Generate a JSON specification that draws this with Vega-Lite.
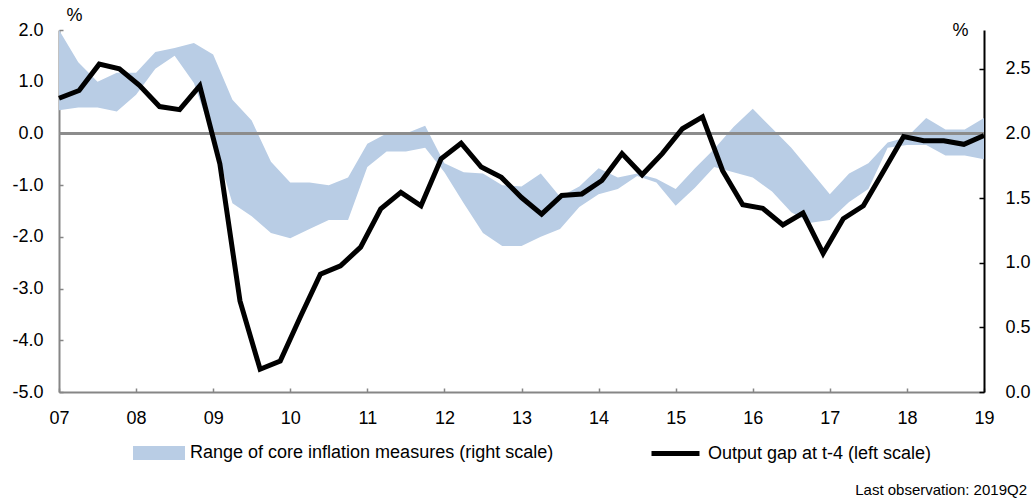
{
  "$schema": "https://vega.github.io/schema/vega-lite/v6.json",
  "width": 925,
  "height": 362,
  "autosize": {"type": "none"},
  "padding": {"left": 59, "top": 30, "right": 50, "bottom": 110},
  "background": "white",
  "config": {
    "view": {"stroke": null},
    "font": "Liberation Sans",
    "axis": {"labelFont": "Liberation Sans", "labelFontSize": 18, "labelColor": "#000", "grid": false, "titleFont": "Liberation Sans", "titleFontWeight": "normal", "titleFontSize": 18, "titleColor": "#000"},
    "legend": {"labelFont": "Liberation Sans", "labelFontSize": 18, "labelColor": "#000", "labelLimit": 0}
  },
  "title": {"text": "Last observation: 2019Q2", "orient": "bottom", "anchor": "end", "frame": "group", "font": "Liberation Sans", "fontSize": 15, "fontWeight": "normal", "color": "#000", "dx": 43, "offset": 19},
  "datasets": {
    "band": [
      {"t": 2007.00, "lo": 2.18, "hi": 2.80},
      {"t": 2007.25, "lo": 2.20, "hi": 2.55},
      {"t": 2007.50, "lo": 2.20, "hi": 2.40},
      {"t": 2007.75, "lo": 2.17, "hi": 2.47},
      {"t": 2008.00, "lo": 2.30, "hi": 2.47},
      {"t": 2008.25, "lo": 2.50, "hi": 2.63},
      {"t": 2008.50, "lo": 2.60, "hi": 2.66},
      {"t": 2008.75, "lo": 2.39, "hi": 2.70},
      {"t": 2009.00, "lo": 1.96, "hi": 2.61},
      {"t": 2009.25, "lo": 1.46, "hi": 2.26},
      {"t": 2009.50, "lo": 1.36, "hi": 2.10},
      {"t": 2009.75, "lo": 1.23, "hi": 1.78},
      {"t": 2010.00, "lo": 1.19, "hi": 1.62},
      {"t": 2010.25, "lo": 1.26, "hi": 1.62},
      {"t": 2010.50, "lo": 1.33, "hi": 1.60},
      {"t": 2010.75, "lo": 1.33, "hi": 1.66},
      {"t": 2011.00, "lo": 1.74, "hi": 1.92},
      {"t": 2011.25, "lo": 1.86, "hi": 2.00},
      {"t": 2011.50, "lo": 1.86, "hi": 2.00},
      {"t": 2011.75, "lo": 1.89, "hi": 2.06},
      {"t": 2012.00, "lo": 1.70, "hi": 1.77},
      {"t": 2012.25, "lo": 1.46, "hi": 1.70},
      {"t": 2012.50, "lo": 1.23, "hi": 1.69},
      {"t": 2012.75, "lo": 1.13, "hi": 1.60},
      {"t": 2013.00, "lo": 1.13, "hi": 1.59},
      {"t": 2013.25, "lo": 1.20, "hi": 1.69},
      {"t": 2013.50, "lo": 1.26, "hi": 1.51},
      {"t": 2013.75, "lo": 1.43, "hi": 1.59},
      {"t": 2014.00, "lo": 1.53, "hi": 1.73},
      {"t": 2014.25, "lo": 1.57, "hi": 1.66},
      {"t": 2014.50, "lo": 1.67, "hi": 1.69},
      {"t": 2014.75, "lo": 1.62, "hi": 1.65},
      {"t": 2015.00, "lo": 1.44, "hi": 1.57},
      {"t": 2015.25, "lo": 1.58, "hi": 1.73},
      {"t": 2015.50, "lo": 1.74, "hi": 1.88},
      {"t": 2015.75, "lo": 1.70, "hi": 2.05},
      {"t": 2016.00, "lo": 1.66, "hi": 2.19},
      {"t": 2016.25, "lo": 1.55, "hi": 2.04},
      {"t": 2016.50, "lo": 1.39, "hi": 1.89},
      {"t": 2016.75, "lo": 1.31, "hi": 1.71},
      {"t": 2017.00, "lo": 1.33, "hi": 1.53},
      {"t": 2017.25, "lo": 1.47, "hi": 1.69},
      {"t": 2017.50, "lo": 1.57, "hi": 1.77},
      {"t": 2017.75, "lo": 1.89, "hi": 1.93},
      {"t": 2018.00, "lo": 1.91, "hi": 1.97},
      {"t": 2018.25, "lo": 1.91, "hi": 2.12},
      {"t": 2018.50, "lo": 1.83, "hi": 2.03},
      {"t": 2018.75, "lo": 1.83, "hi": 2.03},
      {"t": 2019.00, "lo": 1.80, "hi": 2.12}
    ],
    "gap": [
      {"t": 2007.000, "gap": 0.68},
      {"t": 2007.261, "gap": 0.83},
      {"t": 2007.522, "gap": 1.34},
      {"t": 2007.783, "gap": 1.25},
      {"t": 2008.043, "gap": 0.93},
      {"t": 2008.304, "gap": 0.52},
      {"t": 2008.565, "gap": 0.46},
      {"t": 2008.826, "gap": 0.92},
      {"t": 2009.087, "gap": -0.59},
      {"t": 2009.348, "gap": -3.24},
      {"t": 2009.609, "gap": -4.56},
      {"t": 2009.870, "gap": -4.40},
      {"t": 2010.130, "gap": -3.55},
      {"t": 2010.391, "gap": -2.72},
      {"t": 2010.652, "gap": -2.56},
      {"t": 2010.913, "gap": -2.20},
      {"t": 2011.174, "gap": -1.46},
      {"t": 2011.435, "gap": -1.14},
      {"t": 2011.696, "gap": -1.40},
      {"t": 2011.957, "gap": -0.49},
      {"t": 2012.217, "gap": -0.19},
      {"t": 2012.478, "gap": -0.65},
      {"t": 2012.739, "gap": -0.85},
      {"t": 2013.000, "gap": -1.24},
      {"t": 2013.261, "gap": -1.56},
      {"t": 2013.522, "gap": -1.20},
      {"t": 2013.783, "gap": -1.17},
      {"t": 2014.043, "gap": -0.91},
      {"t": 2014.304, "gap": -0.39},
      {"t": 2014.565, "gap": -0.80},
      {"t": 2014.826, "gap": -0.39},
      {"t": 2015.087, "gap": 0.09},
      {"t": 2015.348, "gap": 0.32},
      {"t": 2015.609, "gap": -0.72},
      {"t": 2015.870, "gap": -1.38},
      {"t": 2016.130, "gap": -1.45},
      {"t": 2016.391, "gap": -1.77},
      {"t": 2016.652, "gap": -1.54},
      {"t": 2016.913, "gap": -2.32},
      {"t": 2017.174, "gap": -1.65},
      {"t": 2017.435, "gap": -1.40},
      {"t": 2017.696, "gap": -0.73},
      {"t": 2017.957, "gap": -0.06},
      {"t": 2018.217, "gap": -0.14},
      {"t": 2018.478, "gap": -0.14},
      {"t": 2018.739, "gap": -0.21},
      {"t": 2019.000, "gap": -0.04}
    ]
  },
  "layer": [
    {
      "data": {"name": "band"},
      "mark": {"type": "area", "interpolate": "linear"},
      "encoding": {
        "x": {"field": "t", "type": "quantitative", "scale": {"domain": [2007, 2019], "nice": false, "zero": false},
          "axis": {"values": [2007, 2008, 2009, 2010, 2011, 2012, 2013, 2014, 2015, 2016, 2017, 2018, 2019], "labelExpr": "substring(toString(datum.value), 2, 4)", "title": null, "domainColor": "#868686", "domainWidth": 2, "tickColor": "#868686", "tickWidth": 1.5, "tickSize": -4, "labelPadding": 21, "labelFlush": false, "labelOverlap": false}},
        "y": {"field": "hi", "type": "quantitative", "scale": {"domain": [0, 2.8], "nice": false, "zero": false},
          "axis": {"orient": "right", "values": [0, 0.5, 1, 1.5, 2, 2.5], "format": ".1f", "title": "%", "titleAngle": 0, "titleX": -24, "titleY": 0, "titleAlign": "center", "titleBaseline": "middle", "domainColor": "#000", "domainWidth": 2, "tickColor": "#000", "tickWidth": 1.5, "tickSize": -5, "labelPadding": 26, "labelFlush": false}},
        "y2": {"field": "lo"},
        "fill": {"datum": "Range of core inflation measures (right scale)", "scale": {"range": ["#b9cde5"]},
          "legend": {"orient": "none", "legendX": 74, "legendY": 397, "title": null, "symbolType": "M-1,-0.27L1,-0.27L1,0.27L-1,0.27Z", "symbolSize": 2704, "symbolStrokeWidth": 0, "labelOffset": 5}}
      }
    },
    {
      "data": {"name": "gap"},
      "layer": [
        {
          "mark": {"type": "rule", "color": "#8c8c8c", "strokeWidth": 2},
          "encoding": {"y": {"datum": 0, "type": "quantitative"}}
        },
        {
          "mark": {"type": "line", "strokeWidth": 5, "strokeJoin": "miter"},
          "encoding": {
            "x": {"field": "t", "type": "quantitative"},
            "y": {"field": "gap", "type": "quantitative", "scale": {"domain": [-5, 2], "nice": false, "zero": false},
              "axis": {"orient": "left", "values": [-5, -4, -3, -2, -1, 0, 1, 2], "labelExpr": "replace(format(datum.value, '.1f'), '\u2212', '-')", "title": "%", "titleAngle": 0, "titleX": 15, "titleY": -15, "titleAlign": "center", "titleBaseline": "middle", "domainColor": "#868686", "domainWidth": 2, "tickColor": "#868686", "tickWidth": 1.5, "tickSize": -4, "labelPadding": 20, "labelFlush": false}},
            "stroke": {"datum": "Output gap at t-4 (left scale)", "scale": {"range": ["#000"]},
              "legend": {"orient": "none", "legendX": 590, "legendY": 397, "title": null, "symbolType": "stroke", "symbolSize": 2304, "symbolStrokeWidth": 5, "labelOffset": 6}}
          }
        }
      ]
    }
  ],
  "resolve": {"scale": {"y": "independent"}}
}
